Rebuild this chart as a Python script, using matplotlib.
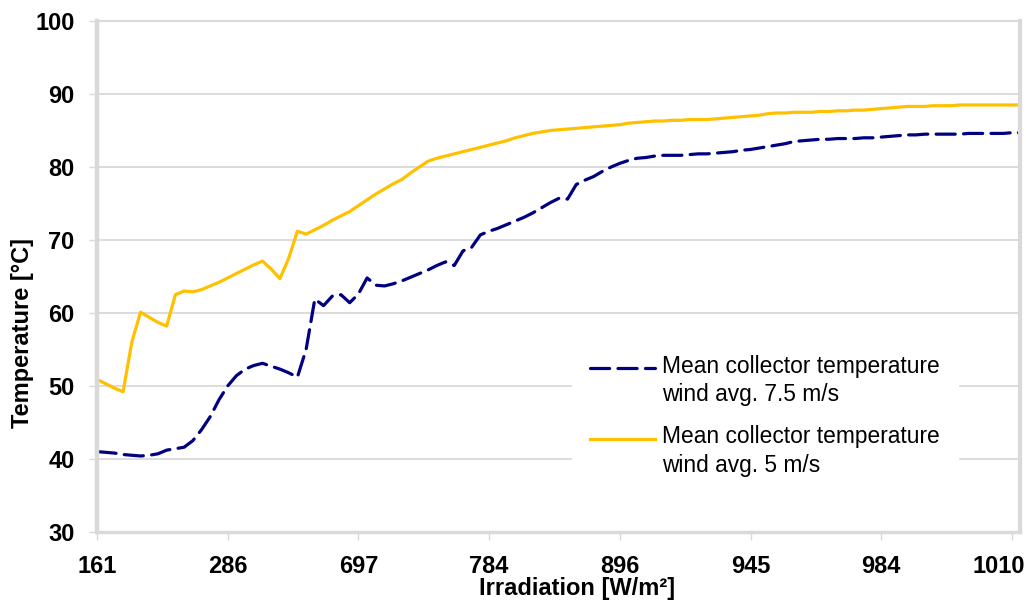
import matplotlib
matplotlib.use("Agg")
import matplotlib.pyplot as plt
from matplotlib.transforms import ScaledTranslation
import numpy as np

plt.rcParams["font.family"] = ["Liberation Sans", "DejaVu Sans"]

GRID = "#D9D9D9"
BLUE = "#000080"
GOLD = "#FFC000"

# categories on the x axis (one label every 15 points)
tick_labels = ["161", "286", "697", "784", "896", "945", "984", "1010"]
step = 15

# mean collector temperature, wind avg. 7.5 m/s
temp_wind75 = [
    41.0, 40.9, 40.8, 40.6, 40.5, 40.4, 40.5, 40.7, 41.2, 41.4,
    41.6, 42.5, 44.0, 45.8, 48.1, 50.0, 51.4, 52.3, 52.8, 53.1,
    52.7, 52.3, 51.8, 51.2, 55.0, 61.9, 61.0, 62.3, 62.5, 61.4,
    62.6, 64.8, 63.8, 63.7, 64.0, 64.4, 64.9, 65.4, 65.9, 66.5,
    67.0, 66.5, 68.5, 69.0, 70.7, 71.2, 71.6, 72.1, 72.6, 73.1,
    73.7, 74.4, 75.1, 75.7, 75.6, 77.6, 78.2, 78.7, 79.4, 80.0,
    80.5, 80.9, 81.2, 81.3, 81.5, 81.6, 81.6, 81.6, 81.7, 81.8,
    81.8, 81.9, 82.0, 82.1, 82.3, 82.4, 82.6, 82.8, 83.0, 83.2,
    83.5, 83.6, 83.7, 83.8, 83.8, 83.9, 83.9, 83.9, 84.0, 84.0,
    84.1, 84.2, 84.3, 84.4, 84.4, 84.5, 84.5, 84.5, 84.5, 84.5,
    84.6, 84.6, 84.6, 84.6, 84.6, 84.7, 84.7,
]

# mean collector temperature, wind avg. 5 m/s
temp_wind5 = [
    50.9, 50.3, 49.7, 49.2, 56.0, 60.1, 59.4, 58.7, 58.2, 62.5,
    63.0, 62.9, 63.2, 63.7, 64.2, 64.8, 65.4, 66.0, 66.6, 67.1,
    66.0, 64.7, 67.5, 71.2, 70.8, 71.4, 72.0, 72.7, 73.3, 73.9,
    74.7, 75.5, 76.3, 77.0, 77.7, 78.3, 79.2, 80.0, 80.8, 81.2,
    81.5, 81.8, 82.1, 82.4, 82.7, 83.0, 83.3, 83.6, 84.0, 84.3,
    84.6, 84.8, 85.0, 85.1, 85.2, 85.3, 85.4, 85.5, 85.6, 85.7,
    85.8, 86.0, 86.1, 86.2, 86.3, 86.3, 86.4, 86.4, 86.5, 86.5,
    86.5, 86.6, 86.7, 86.8, 86.9, 87.0, 87.1, 87.3, 87.4, 87.4,
    87.5, 87.5, 87.5, 87.6, 87.6, 87.7, 87.7, 87.8, 87.8, 87.9,
    88.0, 88.1, 88.2, 88.3, 88.3, 88.3, 88.4, 88.4, 88.4, 88.5,
    88.5, 88.5, 88.5, 88.5, 88.5, 88.5, 88.5,
]

x = np.arange(len(temp_wind5))

fig = plt.figure(figsize=(10.26, 6.01), dpi=100)
ax = fig.add_axes([0.0945, 0.115, 0.8995, 0.85])

ax.plot(x, temp_wind75, color=BLUE, lw=2.3, linestyle=(0, (6, 2.6)),
        dash_capstyle="round", label="Mean collector temperature\nwind avg. 7.5 m/s")
ax.plot(x, temp_wind5, color=GOLD, lw=2.3,
        label="Mean collector temperature\nwind avg. 5 m/s")

ax.set_xlim(0, 105.9)
ax.set_ylim(30, 100)
ax.set_yticks(np.arange(30, 101, 10))
ax.set_xticks(np.arange(len(tick_labels)) * step)
ax.set_xticklabels(tick_labels)

ax.grid(axis="y", color=GRID, lw=1.3)
ax.set_axisbelow(True)
for side, lw in [("left", 3.2), ("bottom", 2.5), ("right", 3), ("top", 1.5)]:
    ax.spines[side].set_color(GRID)
    ax.spines[side].set_linewidth(lw)

ax.tick_params(axis="both", direction="out", length=6, width=1, color=GRID,
               labelsize=17, labelcolor="black")
ax.tick_params(axis="y", pad=10)
ax.tick_params(axis="x", pad=11)
for t in ax.get_xticklabels() + ax.get_yticklabels():
    t.set_fontweight("bold")
# last label kept inside the figure, as in the original
last = ax.get_xticklabels()[-1]
last.set_transform(last.get_transform() + ScaledTranslation(-13 / 100, 0, fig.dpi_scale_trans))

ax.set_ylabel("Temperature [°C]", fontsize=17, fontweight="bold")
ax.yaxis.set_label_coords(-0.068, 0.39)
ax.set_xlabel("Irradiation [W/m²]", fontsize=17, fontweight="bold")
ax.xaxis.set_label_coords(0.52, -0.088)

leg = ax.legend(loc="upper left", bbox_to_anchor=(0.515, 0.382), fontsize=16.4,
                frameon=True, fancybox=False, edgecolor="white", framealpha=1,
                handlelength=2.85, handletextpad=0.3, labelspacing=0.83,
                borderpad=0.8, borderaxespad=0)
for t in leg.get_texts():
    t.set_linespacing(1.3)
# handle sits on the first line of each label
for ln in leg.get_lines():
    ln.set_ydata(np.asarray(ln.get_ydata()) + 9.5)

fig.savefig("out.png", dpi=100)
plt.close(fig)
